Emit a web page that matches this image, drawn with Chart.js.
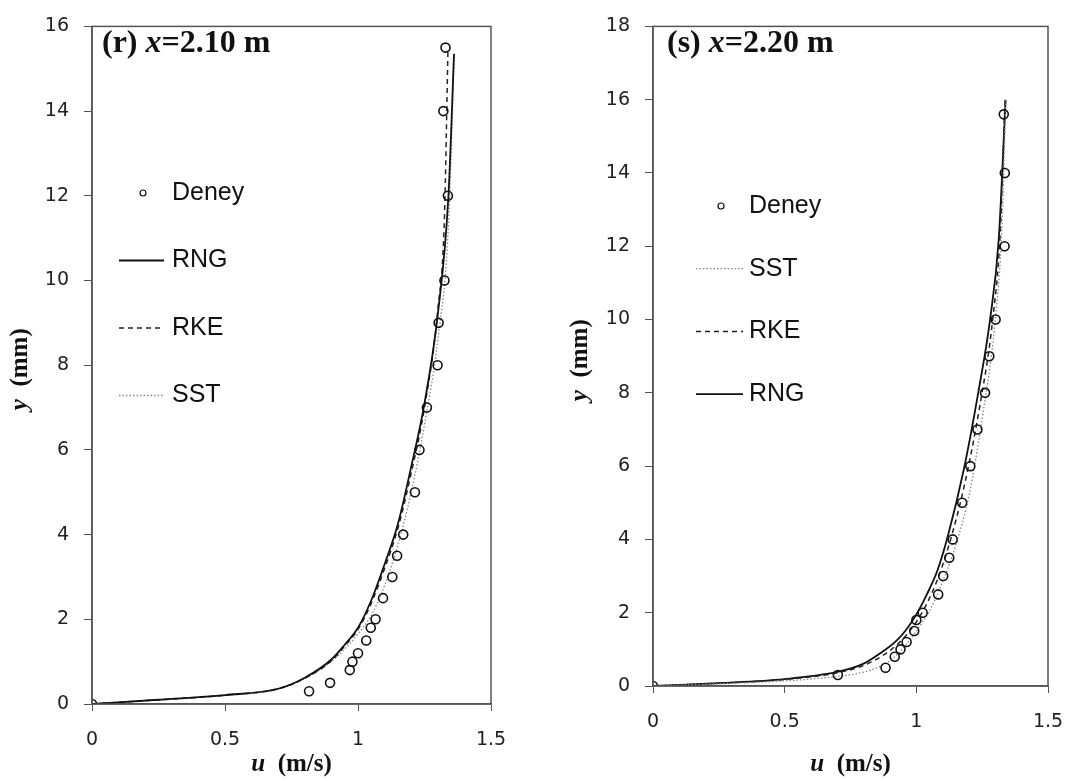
<!DOCTYPE html>
<html>
<head>
<meta charset="utf-8">
<script src="https://cdn.jsdelivr.net/npm/chart.js@4.4.1/dist/chart.umd.min.js"></script>
<style>
  html, body { margin: 0; padding: 0; background: #fff; }
  #wrap { position: relative; width: 1072px; height: 781px; }
  .panel { position: absolute; top: 0; width: 536px; height: 781px; }
</style>
</head>
<body>
<div id="wrap">
  <div class="panel" style="left:0"><canvas id="chartR" width="536" height="781"></canvas></div>
  <div class="panel" style="left:536px"><canvas id="chartS" width="536" height="781"></canvas></div>
</div>
<script>
// ---- panel (r) x = 2.10 m ----
const rDeneyU = [0, 0.816, 0.895, 0.969, 0.979, 1.0, 1.031, 1.048, 1.066, 1.094, 1.129, 1.147, 1.17, 1.214, 1.231, 1.259, 1.299, 1.303, 1.325, 1.338, 1.321, 1.329];
const rDeneyY = [0, 0.3, 0.5, 0.8, 1.0, 1.2, 1.5, 1.8, 2.0, 2.5, 3.0, 3.5, 4.0, 5.0, 6.0, 7.0, 8.0, 9.0, 10.0, 12.0, 14.0, 15.5];
const rRngU = [0, 0.25, 0.5, 0.7, 0.8, 0.9, 0.95, 1.0, 1.05, 1.1, 1.15, 1.2, 1.25, 1.3, 1.34, 1.361];
const rRngY = [0, 0.1, 0.21, 0.36, 0.62, 1.05, 1.4, 1.8, 2.45, 3.3, 4.25, 5.6, 7.1, 9.2, 12, 15.35];
const rRkeU = [0, 0.25, 0.5, 0.7, 0.8, 0.9, 0.95, 1.0, 1.05, 1.1, 1.15, 1.2, 1.25, 1.3, 1.325, 1.338];
const rRkeY = [0, 0.1, 0.21, 0.36, 0.61, 1.02, 1.37, 1.76, 2.38, 3.2, 4.15, 5.45, 7.0, 9.3, 11.5, 15.4];
const rSstU = [0, 0.25, 0.5, 0.7, 0.8, 0.9, 0.95, 1.0, 1.05, 1.1, 1.15, 1.2, 1.25, 1.3, 1.34, 1.362];
const rSstY = [0, 0.1, 0.2, 0.35, 0.6, 1.0, 1.3, 1.65, 2.1, 2.8, 3.75, 5.0, 6.6, 8.6, 11.3, 15.4];

// ---- panel (s) x = 2.20 m ----
const sDeneyU = [0, 0.702, 0.883, 0.918, 0.94, 0.963, 0.992, 1.0, 1.024, 1.083, 1.102, 1.125, 1.138, 1.174, 1.205, 1.232, 1.261, 1.277, 1.301, 1.335, 1.336, 1.332];
const sDeneyY = [0, 0.3, 0.5, 0.8, 1.0, 1.2, 1.5, 1.8, 2.0, 2.5, 3.0, 3.5, 4.0, 5.0, 6.0, 7.0, 8.0, 9.0, 10.0, 12.0, 14.0, 15.6];
const sRngU = [0, 0.25, 0.5, 0.7, 0.8, 0.86, 0.925, 0.963, 1.0, 1.04, 1.08, 1.12, 1.18, 1.235, 1.28, 1.313, 1.339];
const sRngY = [0, 0.08, 0.19, 0.385, 0.61, 0.88, 1.24, 1.55, 1.95, 2.5, 3.15, 4.1, 5.9, 8.0, 10.0, 12.2, 16.0];
const sRkeU = [0, 0.25, 0.5, 0.7, 0.8, 0.87, 0.93, 0.97, 1.0, 1.04, 1.08, 1.12, 1.18, 1.24, 1.29, 1.318, 1.337];
const sRkeY = [0, 0.075, 0.18, 0.36, 0.56, 0.82, 1.15, 1.46, 1.75, 2.25, 2.9, 3.75, 5.4, 7.6, 10.0, 12.3, 16.0];
const sSstU = [0, 0.25, 0.5, 0.7, 0.8, 0.88, 0.93, 0.96, 1.0, 1.05, 1.1, 1.15, 1.2, 1.25, 1.3, 1.325, 1.34];
const sSstY = [0, 0.06, 0.14, 0.26, 0.38, 0.6, 0.88, 1.12, 1.5, 2.05, 2.85, 3.85, 5.2, 7.3, 10.0, 12.5, 16.0];

const uTickStep = 0.5;
const yTickStep = 2;

const SERIF = '"Liberation Serif", "Times New Roman", serif';
const SANS = '"Liberation Sans", Arial, sans-serif';
const TICKFONT = '"DejaVu Sans", sans-serif';

function pts(us, ys) {
  return us.map((u, i) => ({ x: u, y: ys[i] }));
}

function deneySet(us, ys) {
  return {
    label: 'Deney', data: pts(us, ys), showLine: false,
    pointStyle: 'circle', pointRadius: 4.5, pointBorderWidth: 1.6,
    borderColor: '#111', backgroundColor: 'rgba(255,255,255,0)'
  };
}
function lineSet(label, us, ys, style) {
  return Object.assign({
    label, data: pts(us, ys), showLine: true, pointRadius: 0,
    cubicInterpolationMode: 'monotone', fill: false
  }, style);
}
const rngStyle = { borderColor: '#111', borderWidth: 1.8 };
const rkeStyle = { borderColor: '#222', borderWidth: 1.5, borderDash: [5, 4] };
const sstStyle = { borderColor: '#888', borderWidth: 1.3, borderDash: [1.5, 2] };

// draw a row of text pieces with mixed fonts, centred on (x, y)
function drawRuns(ctx, runs, x, y, rot, align) {
  ctx.save();
  ctx.translate(x, y);
  ctx.rotate(rot || 0);
  ctx.fillStyle = '#111';
  ctx.textBaseline = 'middle';
  ctx.textAlign = 'left';
  let total = 0;
  runs.forEach(r => { ctx.font = r.f; total += ctx.measureText(r.t).width; });
  let cx = align === 'left' ? 0 : -total / 2;
  runs.forEach(r => { ctx.font = r.f; ctx.fillText(r.t, cx, 0); cx += ctx.measureText(r.t).width; });
  ctx.restore();
}

const decorPlugin = {
  id: 'decor',
  afterDraw(chart, args, o) {
    const { ctx, chartArea: a } = chart;
    // frame
    ctx.save();
    ctx.strokeStyle = '#555';
    ctx.lineWidth = 1.5;
    ctx.strokeRect(a.left, a.top, a.right - a.left, a.bottom - a.top);
    ctx.restore();

    // panel title
    const tf = 'bold 32px ' + SERIF, tfi = 'italic bold 32px ' + SERIF;
    drawRuns(ctx, [{ t: o.tag + ' ', f: tf }, { t: 'x', f: tfi }, { t: '=' + o.pos + ' m', f: tf }],
      a.left + o.titleDx, 44, 0, 'left');

    // axis titles
    const af = 'bold 25px ' + SERIF, afi = 'italic bold 25px ' + SERIF;
    drawRuns(ctx, [{ t: 'u', f: afi }, { t: '  (m/s)', f: af }], (a.left + a.right) / 2, 765, 0);
    drawRuns(ctx, [{ t: 'y', f: afi }, { t: '  (mm)', f: af }], o.yTitleX, (a.top + a.bottom) / 2 + 4, -Math.PI / 2);

    // legend inside the plot
    ctx.save();
    ctx.font = '25px ' + SANS;
    ctx.textBaseline = 'middle';
    o.legend.forEach((it, i) => {
      const ds = chart.data.datasets.find(d => d.label === it);
      const y = o.legendTop + i * o.legendGap;
      ctx.strokeStyle = ds.borderColor;
      if (ds.showLine) {
        ctx.lineWidth = ds.borderWidth;
        ctx.setLineDash(ds.borderDash || []);
        ctx.beginPath();
        ctx.moveTo(a.left + o.lineX0, y);
        ctx.lineTo(a.left + o.lineX1, y);
        ctx.stroke();
        ctx.setLineDash([]);
      } else {
        ctx.lineWidth = 1.2;
        ctx.beginPath();
        ctx.arc(a.left + o.markX, y, 3, 0, Math.PI * 2);
        ctx.stroke();
      }
      ctx.fillStyle = '#111';
      ctx.fillText(it, a.left + o.textX, y);
    });
    ctx.restore();
  }
};

function makeChart(id, datasets, yMax, yWidth, xHeight, padRight, decor) {
  return new Chart(document.getElementById(id), {
    type: 'scatter',
    data: { datasets },
    options: {
      responsive: false,
      animation: false,
      layout: { padding: { left: 0, right: padRight, top: 16, bottom: 0 } },
      plugins: { legend: { display: false }, tooltip: { enabled: false }, decor },
      scales: {
        x: {
          type: 'linear', min: 0, max: 1.5,
          ticks: { stepSize: uTickStep, color: '#222', font: { family: TICKFONT, size: 19 }, padding: 18,
                   callback: v => String(v) },
          grid: { drawOnChartArea: false, tickLength: 7, color: '#555' },
          border: { color: '#555', width: 1.5 },
          afterFit(s) { s.height = xHeight; s.paddingLeft = 0; s.paddingRight = 0; }
        },
        y: {
          type: 'linear', min: 0, max: yMax,
          ticks: { stepSize: yTickStep, color: '#222', font: { family: TICKFONT, size: 19 }, padding: 15,
                   callback: v => String(v) },
          grid: { drawOnChartArea: false, tickLength: 8, color: '#555' },
          border: { color: '#555', width: 1.5 },
          afterFit(s) { s.width = yWidth; }
        }
      }
    },
    plugins: [decorPlugin]
  });
}

makeChart('chartR', [
  deneySet(rDeneyU, rDeneyY),
  lineSet('RNG', rRngU, rRngY, rngStyle),
  lineSet('RKE', rRkeU, rRkeY, rkeStyle),
  lineSet('SST', rSstU, rSstY, sstStyle)
], 16, 92, 77, 45, {
  tag: '(r)', pos: '2.10', titleDx: 10, yTitleX: 21,
  legend: ['Deney', 'RNG', 'RKE', 'SST'], legendTop: 193, legendGap: 67.5,
  markX: 51, lineX0: 27, lineX1: 72, textX: 80
});

makeChart('chartS', [
  deneySet(sDeneyU, sDeneyY),
  lineSet('SST', sSstU, sSstY, sstStyle),
  lineSet('RKE', sRkeU, sRkeY, rkeStyle),
  lineSet('RNG', sRngU, sRngY, rngStyle)
], 18, 117, 95, 24, {
  tag: '(s)', pos: '2.20', titleDx: 14, yTitleX: 45,
  legend: ['Deney', 'SST', 'RKE', 'RNG'], legendTop: 206, legendGap: 62.7,
  markX: 68, lineX0: 43, lineX1: 90, textX: 96
});
</script>
</body>
</html>
